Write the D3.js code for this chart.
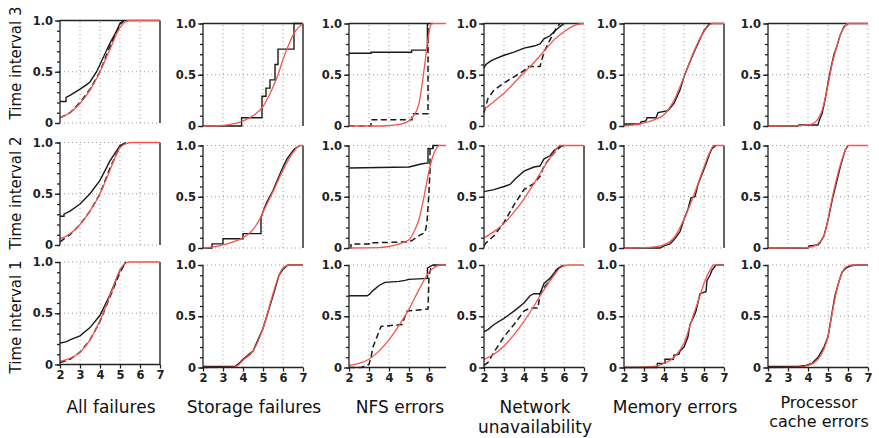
<!DOCTYPE html>
<html>
<head>
<meta charset="utf-8">
<script src="https://cdn.jsdelivr.net/npm/d3@7"></script>
<style>
  body { margin: 0; background: #fff; }
  svg { display: block; }
  .tick text { font-family: "DejaVu Sans", sans-serif; font-weight: bold; font-size: 11.5px; fill: #222; }
  .domain, .tick line { stroke: #222; stroke-width: 1.3; }
</style>
</head>
<body>
<svg id="chart"></svg>
<script>
// rows top to bottom: Time interval 3, 2, 1
const rowLabels = ["Time interval 3", "Time interval 2", "Time interval 1"];
const colTitles = [["All failures"], ["Storage failures"], ["NFS errors"],
                   ["Network", "unavailability"], ["Memory errors"], ["Processor", "cache errors"]];
const xTicks = [2, 3, 4, 5, 6, 7];
const yTicks = [0, 0.5, 1];

// ---- All failures
const allSolid = [
  [[2,0.21],[2.3,0.21],[2.3,0.25],[2.5,0.27],[3,0.33],[3.3,0.37],[3.5,0.4],[3.83,0.5],[4,0.57],[4.5,0.78],[4.83,0.9],[5,0.97],[5.2,1]],
  [[2,0.28],[2.2,0.28],[2.2,0.3],[2.5,0.33],[3,0.4],[3.5,0.5],[4,0.63],[4.5,0.82],[5,0.97],[5.3,1]],
  [[2,0.21],[2.3,0.22],[2.5,0.24],[3,0.28],[3.5,0.36],[4,0.48],[4.5,0.68],[5,0.92],[5.3,1]]
];
const allDashed = [
  [[2,0.05],[2.5,0.1],[3,0.2],[3.5,0.33],[4,0.5],[4.5,0.75],[5,0.96],[5.2,1]],
  [[2,0.03],[2.2,0.06],[2.5,0.1],[3,0.2],[3.5,0.33],[4,0.5],[4.5,0.75],[5,0.96],[5.3,1]],
  [[2,0.02],[2.5,0.05],[3,0.12],[3.5,0.24],[4,0.42],[4.5,0.66],[5,0.9],[5.3,1]]
];
const allFit = [
  [[2,0.05],[2.5,0.1],[3,0.19],[3.5,0.32],[4,0.5],[4.5,0.72],[5,0.93],[5.3,0.99],[5.5,1],[7,1]],
  [[2,0.06],[2.5,0.11],[3,0.2],[3.5,0.33],[4,0.5],[4.5,0.73],[5,0.95],[5.3,0.99],[5.6,1],[7,1]],
  [[2,0.03],[2.5,0.06],[3,0.12],[3.5,0.24],[4,0.43],[4.5,0.67],[5,0.92],[5.3,0.99],[5.5,1],[7,1]]
];

// ---- Storage failures
const storageSolid = [
  [[2,0],[3.93,0],[3.93,0.08],[4.95,0.08],[4.95,0.29],[5.15,0.29],[5.15,0.37],[5.35,0.37],[5.35,0.45],[5.6,0.45],[5.6,0.6],[5.75,0.6],[5.75,0.75],[6.55,0.75],[6.55,1],[7,1]],
  [[2,0],[2.45,0],[2.45,0.04],[3,0.04],[3,0.09],[4,0.09],[4,0.14],[4.9,0.14],[4.9,0.3],[5.05,0.38],[5.2,0.45],[5.5,0.56],[5.8,0.7],[6,0.79],[6.2,0.87],[6.5,0.95],[6.6,0.97],[6.85,1]],
  [[2,0.01],[3.6,0.01],[3.8,0.04],[4,0.08],[4.5,0.16],[5,0.38],[5.5,0.7],[5.8,0.9],[6,0.96],[6.25,1],[7,1]]
];
const storageDashed = [null, null, null];
const storageFit = [
  [[2,0],[3,0.005],[3.5,0.02],[4,0.05],[4.5,0.1],[5,0.19],[5.5,0.38],[5.75,0.5],[6,0.65],[6.3,0.8],[6.6,0.92],[7,1]],
  [[2,0],[2.5,0.01],[3,0.03],[3.5,0.06],[4,0.1],[4.5,0.18],[4.8,0.27],[5,0.35],[5.5,0.55],[6,0.76],[6.5,0.93],[6.85,1],[7,1]],
  [[2,0],[3.5,0.003],[3.8,0.03],[4,0.07],[4.5,0.16],[5,0.38],[5.5,0.72],[5.8,0.9],[6,0.97],[6.3,1],[7,1]]
];

// ---- NFS errors
const nfsSolid = [
  [[2,0.71],[3.1,0.71],[3.1,0.72],[5.13,0.72],[5.13,0.74],[5.92,0.74],[5.92,1]],
  [[2,0.78],[5,0.79],[5.2,0.8],[5.6,0.82],[5.95,0.83],[5.95,0.97],[6.2,0.97],[6.2,1],[6.5,1]],
  [[2,0.7],[2.9,0.7],[3,0.71],[3.2,0.75],[3.5,0.8],[3.8,0.83],[4.5,0.84],[4.8,0.85],[5,0.86],[5.92,0.87],[5.92,0.97],[6.2,1],[6.85,1]]
];
const nfsDashed = [
  [[2,0],[3.1,0],[3.1,0.06],[5.15,0.06],[5.15,0.12],[5.95,0.12],[5.95,1]],
  [[2,0],[2.1,0],[2.1,0.04],[3,0.04],[3,0.05],[5,0.06],[5.2,0.08],[5.5,0.12],[5.8,0.15],[5.9,0.25],[6,0.55],[6.05,0.75],[6.05,0.97],[6.2,0.97],[6.2,1]],
  [[2,0],[2.6,0],[3,0.03],[3.1,0.1],[3.2,0.2],[3.4,0.3],[3.6,0.4],[4.65,0.42],[4.9,0.55],[5.95,0.57],[6,0.9],[6.1,0.97],[6.3,1]]
];
const nfsFit = [
  [[2,0],[3.5,0],[4,0.005],[4.5,0.015],[5,0.05],[5.3,0.12],[5.5,0.22],[5.65,0.4],[5.8,0.62],[5.95,0.85],[6.05,0.96],[6.15,1],[6.85,1]],
  [[2,0],[3.5,0.003],[4,0.015],[4.5,0.04],[5,0.08],[5.3,0.18],[5.5,0.28],[5.75,0.5],[6,0.75],[6.2,0.9],[6.4,0.98],[6.5,1],[6.85,1]],
  [[2,0.02],[2.5,0.04],[3,0.08],[3.5,0.16],[4,0.27],[4.5,0.41],[5,0.57],[5.5,0.76],[6,0.93],[6.3,0.98],[6.6,1],[6.85,1]]
];

// ---- Network unavailability
const netSolid = [
  [[2,0.57],[2.1,0.6],[2.3,0.63],[2.5,0.65],[3,0.69],[3.5,0.72],[4,0.76],[4.5,0.78],[4.8,0.8],[5,0.85],[5.3,0.88],[5.5,0.92],[5.8,0.97],[6,1]],
  [[2,0.55],[2.5,0.57],[3,0.6],[3.3,0.62],[3.6,0.68],[4,0.75],[4.5,0.79],[4.8,0.8],[5,0.87],[5.3,0.9],[5.5,0.95],[5.8,0.99],[6,1]],
  [[2,0.35],[2.2,0.37],[2.5,0.42],[3,0.48],[3.5,0.55],[4,0.63],[4.3,0.7],[4.5,0.72],[4.8,0.72],[5,0.82],[5.3,0.87],[5.5,0.92],[5.8,0.98],[6,1]]
];
const netDashed = [
  [[2,0.13],[2.1,0.2],[2.2,0.27],[2.5,0.35],[3,0.42],[3.5,0.48],[4,0.54],[4.2,0.58],[4.8,0.58],[5,0.72],[5.3,0.84],[5.6,0.95],[5.8,1]],
  [[2,0.02],[2.1,0.05],[2.5,0.12],[3,0.25],[3.5,0.42],[4,0.57],[4.5,0.63],[4.8,0.7],[5,0.8],[5.3,0.88],[5.6,0.95],[5.9,1]],
  [[2,0.02],[2.2,0.05],[2.5,0.15],[3,0.3],[3.5,0.42],[4,0.55],[4.3,0.58],[4.7,0.58],[4.8,0.72],[5,0.78],[5.3,0.85],[5.6,0.95],[5.9,1]]
];
const netFit = [
  [[2,0.16],[2.5,0.24],[3,0.32],[3.5,0.42],[4,0.52],[4.5,0.62],[5,0.73],[5.5,0.84],[6,0.92],[6.5,0.98],[7,1]],
  [[2,0.1],[2.5,0.16],[3,0.24],[3.5,0.35],[4,0.48],[4.5,0.63],[5,0.79],[5.5,0.93],[5.8,1],[7,1]],
  [[2,0.08],[2.5,0.13],[3,0.21],[3.5,0.32],[4,0.45],[4.5,0.6],[5,0.76],[5.5,0.9],[5.8,0.97],[6.2,1],[7,1]]
];

// ---- Memory errors
const memSolid = [
  [[2,0.02],[2.8,0.02],[2.85,0.04],[3.1,0.05],[3.15,0.08],[3.6,0.08],[3.7,0.13],[4.2,0.15],[4.5,0.22],[4.8,0.35],[5,0.48],[5.2,0.58],[5.5,0.72],[5.8,0.85],[6,0.93],[6.2,0.98],[6.3,1]],
  [[2,0],[3.8,0],[4,0.02],[4.3,0.04],[4.5,0.08],[4.8,0.16],[5,0.28],[5.2,0.38],[5.35,0.49],[5.55,0.5],[5.7,0.62],[5.9,0.72],[6.1,0.82],[6.3,0.93],[6.4,0.97],[6.6,1]],
  [[2,0],[3.65,0],[3.67,0.04],[4.05,0.04],[4.05,0.08],[4.47,0.08],[4.5,0.12],[4.75,0.13],[4.8,0.16],[5,0.2],[5.2,0.3],[5.3,0.42],[5.5,0.5],[5.6,0.55],[5.8,0.72],[6.1,0.74],[6.15,0.85],[6.3,0.9],[6.4,0.95],[6.6,1],[7,1]]
];
const memDashed = [null, null, null];
const memFit = [
  [[2,0],[2.5,0.01],[3,0.03],[3.5,0.06],[4,0.11],[4.5,0.25],[5,0.48],[5.5,0.73],[6,0.92],[6.3,0.99],[6.5,1],[7,1]],
  [[2,0],[3,0.003],[3.5,0.01],[4,0.03],[4.5,0.1],[5,0.28],[5.5,0.52],[6,0.79],[6.3,0.94],[6.5,1],[7,1]],
  [[2,0],[3,0.003],[3.5,0.01],[4,0.04],[4.5,0.1],[5,0.24],[5.45,0.5],[5.8,0.7],[6,0.82],[6.3,0.95],[6.5,1],[7,1]]
];

// ---- Processor cache errors
const cacheSolid = [
  [[2,0],[3.5,0],[3.55,0.01],[4.5,0.01],[4.55,0.05],[4.7,0.12],[4.85,0.25],[5,0.42],[5.15,0.57],[5.3,0.7],[5.4,0.75],[5.6,0.88],[5.8,0.97],[6,1]],
  [[2,0],[4,0],[4.05,0.02],[4.5,0.03],[4.6,0.05],[4.8,0.12],[5,0.27],[5.2,0.46],[5.4,0.62],[5.6,0.78],[5.7,0.85],[5.85,0.95],[6,1]],
  [[2,0.01],[3.5,0.01],[3.9,0.02],[4.2,0.04],[4.5,0.1],[4.8,0.2],[5,0.3],[5.17,0.5],[5.35,0.7],[5.55,0.84],[5.7,0.93],[5.9,0.97],[6.1,0.99],[6.4,1],[7,1]]
];
const cacheDashed = [null, null, null];
const cacheFit = [
  [[2,0],[3.5,0.002],[4,0.01],[4.3,0.03],[4.5,0.07],[4.7,0.15],[5,0.4],[5.2,0.6],[5.4,0.75],[5.6,0.88],[5.8,0.96],[6,1],[7,1]],
  [[2,0],[3.5,0.001],[4,0.005],[4.5,0.04],[4.8,0.12],[5,0.28],[5.2,0.48],[5.4,0.65],[5.6,0.8],[5.8,0.92],[6,1],[7,1]],
  [[2,0],[3.5,0.003],[4,0.02],[4.5,0.08],[4.8,0.18],[5,0.3],[5.2,0.52],[5.4,0.72],[5.6,0.87],[5.8,0.96],[6,0.99],[6.2,1],[7,1]]
];

const columns = [
  { solid: allSolid, dashed: allDashed, fit: allFit },
  { solid: storageSolid, dashed: storageDashed, fit: storageFit },
  { solid: nfsSolid, dashed: nfsDashed, fit: nfsFit },
  { solid: netSolid, dashed: netDashed, fit: netFit },
  { solid: memSolid, dashed: memDashed, fit: memFit },
  { solid: cacheSolid, dashed: cacheDashed, fit: cacheFit }
];

// layout
const width = 879, height = 438;
const colLeft = [60, 203, 349, 484, 624, 768];
const colShift = [-3, 0, 0, 0, 0, 0];
const colXMax = [7, 7, 6.85, 7, 7, 7];
const rowTop = [23.5, 145.5, 265];
const rowLabelY = [63, 193, 317];
const panelW = 100, panelH = 102.5;
const redColor = "#f2564e";
const gridColor = "#9a9a9a";
// panels that carry a solid right frame line [col][row]
const rightFrame = [[1,1,1],[1,1,0],[0,0,0],[0,1,0],[1,1,0],[0,0,0]];

const svg = d3.select("#chart").attr("width", width).attr("height", height);

columns.forEach((col, ci) => {
  rowTop.forEach((top, ri) => {
    const y0 = top + colShift[ci];
    const xMax = colXMax[ci];
    const x = d3.scaleLinear().domain([2, 7]).range([0, panelW]);
    const y = d3.scaleLinear().domain([0, 1]).range([panelH, 0]);
    const g = svg.append("g").attr("transform", `translate(${colLeft[ci]},${y0})`);
    const isBottom = ri === 2;

    // dotted grid
    const gx = [3, 4, 5, 6, 7].filter(v => v <= xMax && !(v === 7 && rightFrame[ci][ri]));
    g.selectAll(".gv").data(gx).join("line")
      .attr("x1", d => x(d)).attr("x2", d => x(d))
      .attr("y1", y(0)).attr("y2", y(1))
      .attr("stroke", gridColor).attr("stroke-width", 1).attr("stroke-dasharray", "1,3");
    const gy = isBottom ? [0.5, 1] : (ri === 0 ? [0, 0.5] : [0, 0.5, 1]);
    g.selectAll(".gh").data(gy).join("line")
      .attr("x1", 0).attr("x2", x(xMax))
      .attr("y1", d => y(d)).attr("y2", d => y(d))
      .attr("stroke", gridColor).attr("stroke-width", 1).attr("stroke-dasharray", "1,3");

    // frame lines
    if (ri === 0) {
      g.append("line").attr("x1", 0).attr("x2", x(ci === 2 ? 6.2 : 7))
        .attr("y1", y(1)).attr("y2", y(1)).attr("stroke", "#222").attr("stroke-width", 1.3);
    }
    if (rightFrame[ci][ri]) {
      g.append("line").attr("x1", x(7)).attr("x2", x(7))
        .attr("y1", y(0)).attr("y2", y(1)).attr("stroke", "#222").attr("stroke-width", 1.4);
    }

    // curves
    const stepLine = d3.line().x(d => x(d[0])).y(d => y(d[1]));
    const fitLine = d3.line().x(d => x(d[0])).y(d => y(d[1])).curve(d3.curveMonotoneX);
    if (col.dashed[ri]) {
      g.append("path").datum(col.dashed[ri]).attr("d", stepLine)
        .attr("fill", "none").attr("stroke", "#1a1a1a").attr("stroke-width", 1.5)
        .attr("stroke-dasharray", "6,3.5");
    }
    g.append("path").datum(col.solid[ri]).attr("d", stepLine)
      .attr("fill", "none").attr("stroke", "#1a1a1a").attr("stroke-width", 1.4);
    g.append("path").datum(col.fit[ri]).attr("d", fitLine)
      .attr("fill", "none").attr("stroke", redColor).attr("stroke-width", 1.3);

    // y axis: minor + major ticks
    g.append("g").call(d3.axisLeft(y).tickValues(d3.range(0, 11).map(i => i / 10)).tickSize(3).tickFormat(""))
      .call(a => a.select(".domain").remove());
    g.append("g").call(d3.axisLeft(y).tickValues(yTicks).tickSize(5).tickPadding(2)
      .tickFormat(d => d === 0 ? "0" : d3.format(".1f")(d)))
      .call(a => a.select(".domain").attr("d", `M0,${y(0)}V${y(1)}`));

    // x axis on bottom row
    if (isBottom) {
      const xa = d3.axisBottom(x).tickValues(xTicks.filter(v => v <= xMax)).tickSize(4).tickPadding(2)
        .tickFormat(d3.format("d"));
      g.append("g").attr("transform", `translate(0,${panelH})`).call(xa)
        .call(a => a.select(".domain").attr("d", `M0,0H${x(xMax)}`));
    }
  });

  // column title
  const lines = colTitles[ci];
  const tight = ci === 5;
  const t = svg.append("text")
    .attr("x", colLeft[ci] + panelW / 2 + 1)
    .attr("y", tight ? 408 : 413)
    .attr("text-anchor", "middle")
    .style("font-family", "'DejaVu Sans', sans-serif")
    .style("font-size", tight ? "16px" : "17px")
    .style("fill", "#111");
  lines.forEach((s, k) => {
    t.append("tspan").attr("x", colLeft[ci] + panelW / 2 + 1)
      .attr("dy", k === 0 ? 0 : (tight ? 19 : 20)).text(s);
  });
});

// row labels
rowLabels.forEach((s, ri) => {
  svg.append("text")
    .attr("transform", `translate(21,${rowLabelY[ri]}) rotate(-90)`)
    .attr("text-anchor", "middle")
    .style("font-family", "'DejaVu Sans', sans-serif")
    .style("font-size", "15px")
    .style("fill", "#111")
    .text(s);
});
</script>
</body>
</html>
